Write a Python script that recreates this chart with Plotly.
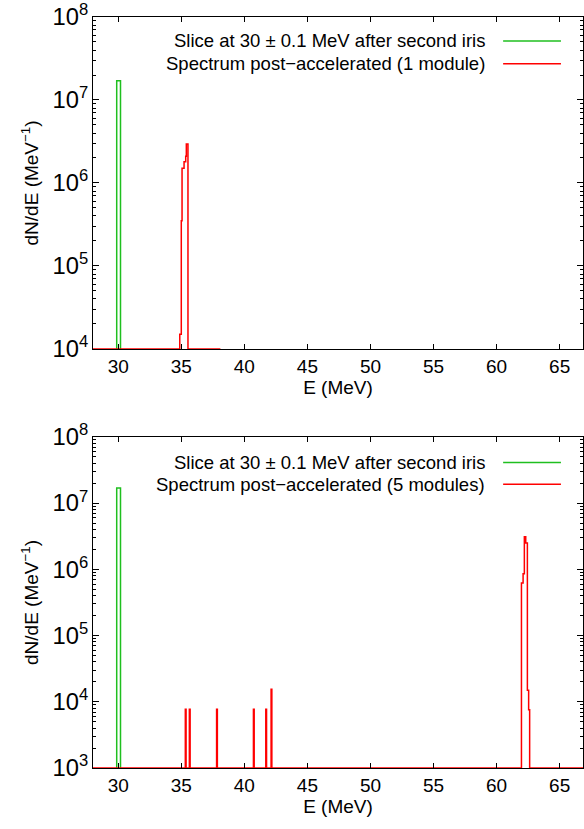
import plotly.graph_objects as go

# ---- data (histogram bin edges and values, dN/dE in MeV^-1) ----
green_edges = [29.88, 30.18]
green_vals = [1.7e7]

top_floor = 1e4
top_red_edges = [28.0, 34.88, 35.00, 35.06, 35.22, 35.35, 35.40, 35.53, 38.1]
top_red_vals = [1e4, 1.5e4, 3.5e5, 1.5e6, 1.8e6, 2.1e6, 2.95e6, 1e4]

bot_floor = 1e3
bot_red_edges = [28.0, 35.32, 35.38, 35.64, 35.70, 37.80, 37.86, 40.72, 40.78,
                 41.70, 41.76, 42.12, 42.18, 61.97, 62.10, 62.20, 62.31, 62.44,
                 62.54, 62.62, 67.0]
bot_red_vals = [1e3, 7.7e3, 1e3, 7.7e3, 1e3, 7.7e3, 1e3, 7.7e3, 1e3,
                7.7e3, 1e3, 1.55e4, 1e3, 6.2e5, 8.6e5, 3.1e6, 2.5e6, 1.5e4,
                7.6e3, 1e3]

x_ticks = [30, 35, 40, 45, 50, 55, 60, 65]
x_range = [28, 66.85]

green_label = "Slice at 30 ± 0.1 MeV after second iris"
red_label_top = "Spectrum post\u2212accelerated (1 module)"
red_label_bot = "Spectrum post\u2212accelerated (5 modules)"

GREEN = "#1fbf1f"
RED = "#ff0000"
FONT = "Liberation Sans, Arial, sans-serif"
FS = 19


def hist_xy(edges, vals, floor):
    xs = [edges[0]] + list(edges)
    ys = [floor] + list(vals) + [floor]
    return xs, ys


fig = go.Figure()

for xa, ya, floor, redges, rvals in [("x", "y", top_floor, top_red_edges, top_red_vals),
                                     ("x2", "y2", bot_floor, bot_red_edges, bot_red_vals)]:
    gx, gy = hist_xy(green_edges, green_vals, floor)
    fig.add_trace(go.Scatter(x=gx, y=gy, mode="lines", line=dict(color=GREEN, width=1.5, shape="hv"),
                             xaxis=xa, yaxis=ya, showlegend=False, hoverinfo="skip"))
    rx = list(redges)
    ry = list(rvals) + [rvals[-1]]
    fig.add_trace(go.Scatter(x=rx, y=ry, mode="lines", line=dict(color=RED, width=1.5, shape="hv"),
                             xaxis=xa, yaxis=ya, showlegend=False, hoverinfo="skip"))

axis_common = dict(showgrid=False, zeroline=False, showline=True, linecolor="black", linewidth=1,
                   mirror="ticks", ticks="inside", tickcolor="black",
                   tickfont=dict(family=FONT, size=FS, color="black"))

fig.update_layout(
    width=584, height=829,
    margin=dict(l=93, r=0, t=13, b=61),
    paper_bgcolor="white", plot_bgcolor="white",
    font=dict(family=FONT, color="black"),
    xaxis=dict(domain=[0, 1], anchor="y", range=x_range, tickvals=x_ticks, ticklen=5,
               title=dict(text="E (MeV)", font=dict(size=FS), standoff=4), **axis_common),
    yaxis=dict(domain=[0.558, 1], anchor="x", type="log", range=[4, 8], dtick=1,
               exponentformat="power", ticklen=6,
               minor=dict(ticks="inside", ticklen=3, dtick="D1", tickcolor="black"),
               title=dict(text="dN/dE (MeV<sup>\u22121</sup>)", font=dict(size=FS), standoff=8),
               **axis_common),
    xaxis2=dict(domain=[0, 1], anchor="y2", range=x_range, tickvals=x_ticks, ticklen=5,
                title=dict(text="E (MeV)", font=dict(size=FS), standoff=4), **axis_common),
    yaxis2=dict(domain=[0, 0.4408], anchor="x2", type="log", range=[3, 8], dtick=1,
                exponentformat="power", ticklen=6,
                minor=dict(ticks="inside", ticklen=3, dtick="D1", tickcolor="black"),
                title=dict(text="dN/dE (MeV<sup>\u22121</sup>)", font=dict(size=FS), standoff=8),
                **axis_common),
)

legend_rows = [("x domain", "y domain", [(green_label, GREEN, 0.928), (red_label_top, RED, 0.859)]),
               ("x2 domain", "y2 domain", [(green_label, GREEN, 0.923), (red_label_bot, RED, 0.857)])]
for xr, yr, rows in legend_rows:
    for text, col, yy in rows:
        fig.add_annotation(x=0.8045, y=yy, xref=xr, yref=yr, text=text, showarrow=False,
                           xanchor="right", yanchor="middle", font=dict(family=FONT, size=18.5, color="black"))
        fig.add_shape(type="line", x0=0.837, x1=0.955, y0=yy, y1=yy, xref=xr, yref=yr,
                      line=dict(color=col, width=1.5))

fig.write_html("out.html")
